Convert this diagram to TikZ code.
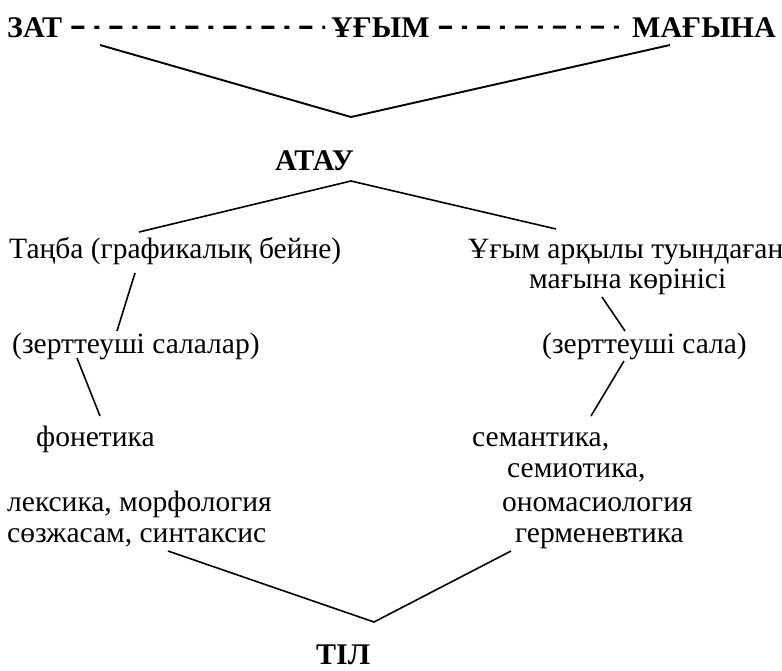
\documentclass[tikz,border=0pt]{standalone}
\usepackage{fontspec}
\setmainfont{Liberation Serif}
\usetikzlibrary{positioning}

\begin{document}
\begin{tikzpicture}[x=1pt, y=-1pt,
    term/.style={font=\fontsize{30}{33}\selectfont\bfseries, inner sep=0pt, anchor=base west},
    word/.style={font=\fontsize{29.5}{30}\selectfont, inner sep=0pt, anchor=base west},
    link/.style={line width=1.6pt},
    gapline/.style={line width=3.2pt, dash pattern=on 13pt off 10pt on 5pt off 10pt, shorten <=9pt, shorten >=6pt}]
    \useasboundingbox (0,0) rectangle (782,670);

    % top row
    \node (zat) [term] at (7,37) {ЗАТ};
    \node (ugym) [term] at (331,37) {ҰҒЫМ};
    \node (magyna) [term] at (632,37) {МАҒЫНА};
    \draw[gapline] (zat.east) -- (ugym.west);
    \draw[gapline] (ugym.east) -- (magyna.west);

    \node (atau) [term] at (275,170) {АТАУ};

    % left branch
    \node (tanba) [word] at (9,258) {Таңба (графикалық бейне)};
    \node (zertl) [word] at (12,353) {(зерттеуші салалар)};
    \node (fonetika) [word] at (36,446) {фонетика};
    \node (leksika) [word] at (7,511) {лексика, морфология};
    \node (sozhasam) [word] at (7,542) {сөзжасам, синтаксис};

    % right branch
    \node (ugymline) [word] at (468,258) {Ұғым арқылы туындаған};
    \node (korinis) [word] at (529,288) {мағына көрінісі};
    \node (zertr) [word] at (542,353) {(зерттеуші сала)};
    \node (semantika) [word] at (472,446) {семантика,};
    \node (semiotika) [word] at (507,477) {семиотика,};
    \node (onomas) [word] at (502,511) {ономасиология};
    \node (germ) [word] at (515,542) {герменевтика};

    \node (til) [term] at (316,664) {ТІЛ};

    % connector ends
    \coordinate (v1l) at (100,45);
    \coordinate (v1) at (351,117);
    \coordinate (v1r) at (670,45);
    \coordinate (v2l) at (139,232);
    \coordinate (v2) at (351,181);
    \coordinate (v2r) at (556,229);
    \coordinate (l1a) at (135,273);
    \coordinate (l1b) at (117,331);
    \coordinate (r1a) at (602,297);
    \coordinate (r1b) at (625,331);
    \coordinate (l2a) at (77,358);
    \coordinate (l2b) at (100,416);
    \coordinate (r2a) at (624,361);
    \coordinate (r2b) at (591,416);
    \coordinate (v3l) at (168,551);
    \coordinate (v3) at (374,622);
    \coordinate (v3r) at (511,551);

    \draw[link, line width=1.9pt] (v1l) -- (v1) -- (v1r);
    \draw[link] (v2l) -- (v2) -- (v2r);
    \draw[link] (l1a) -- (l1b);
    \draw[link] (r1a) -- (r1b);
    \draw[link] (l2a) -- (l2b);
    \draw[link] (r2a) -- (r2b);
    \draw[link] (v3l) -- (v3) -- (v3r);
\end{tikzpicture}
\end{document}
